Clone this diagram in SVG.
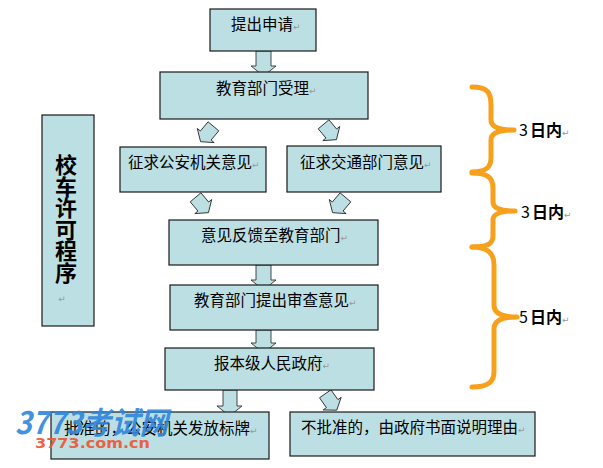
<svg xmlns="http://www.w3.org/2000/svg" width="603" height="468" viewBox="0 0 603 468">
<defs>
<style>
.box{fill:#BCDFE3;stroke:#1a1a1a;stroke-width:1.2}
.arr{fill:#BCDFE3;stroke:#333;stroke-width:0.9;stroke-linejoin:miter}
.t{font-family:"Noto Sans CJK SC","Liberation Sans",sans-serif;font-size:15.5px;fill:#000}
.pm{font-family:"DejaVu Sans",sans-serif;font-size:9px;fill:#999}
.brace{fill:none;stroke:#F7A01C;stroke-width:5;stroke-linecap:round;stroke-linejoin:round}
.lab{font-family:"Noto Sans CJK SC","Liberation Sans",sans-serif;font-size:16px;fill:#000}
</style>
<path id="da" d="M-7,-10 L7,-10 L7,2 L11,2 L0,10 L-11,2 L-7,2 Z"/>
</defs>
<rect width="603" height="468" fill="#fff"/>
<g id="connectors">
<polygon class="arr" points="256,51 271,51 271,66 276,66 263.5,76 251,66 256,66"/>
<polygon class="arr" points="256,265 271,265 271,280 276,280 263.5,290 251,280 256,280"/>
<polygon class="arr" points="256,330 271,330 271,343 276,343 263.5,353 251,343 256,343"/>
<polygon class="arr" points="223,390 237,390 237,406 242,406 229.5,416 217,406 223,406"/>
<use href="#da" class="arr" transform="translate(207,134) rotate(40)"/>
<use href="#da" class="arr" transform="translate(330,132) rotate(-40)"/>
<use href="#da" class="arr" transform="translate(202,205) rotate(-40)"/>
<use href="#da" class="arr" transform="translate(339,205) rotate(40)"/>
<use href="#da" class="arr" transform="translate(331,402) rotate(-35)"/>
</g>
<g id="n1"><rect class="box" x="210" y="9" width="106" height="42"/><text class="t" x="231" y="30">提出申请<tspan class="pm">↵</tspan></text></g>
<g id="n2"><rect class="box" x="160" y="72" width="208" height="47"/><text class="t" x="216" y="94">教育部门受理<tspan class="pm">↵</tspan></text></g>
<g id="n3"><rect class="box" x="120" y="147" width="146" height="45"/><text class="t" x="128" y="168">征求公安机关意见<tspan class="pm">↵</tspan></text></g>
<g id="n4"><rect class="box" x="287" y="146" width="154" height="46"/><text class="t" x="300" y="168">征求交通部门意见<tspan class="pm">↵</tspan></text></g>
<g id="n5"><rect class="box" x="169" y="220" width="209" height="45"/><text class="t" x="201" y="241">意见反馈至教育部门<tspan class="pm">↵</tspan></text></g>
<g id="n6"><rect class="box" x="170" y="285" width="208" height="45"/><text class="t" x="194" y="306">教育部门提出审查意见<tspan class="pm">↵</tspan></text></g>
<g id="n7"><rect class="box" x="165" y="348" width="209" height="42"/><text class="t" x="214" y="369">报本级人民政府<tspan class="pm">↵</tspan></text></g>
<g id="n8"><rect class="box" x="51" y="412" width="218" height="47"/><text class="t" x="64" y="434">批准的，公安机关发放标牌<tspan class="pm">↵</tspan></text></g>
<g id="n9"><rect class="box" x="290" y="412" width="245" height="44"/><text class="t" x="301" y="433">不批准的，由政府书面说明理由<tspan class="pm">↵</tspan></text></g>
<g id="title"><rect class="box" x="42" y="115" width="52" height="211"/>
<text x="66" y="173" text-anchor="middle" style="font-family:'Noto Sans CJK SC',sans-serif;font-size:22px;font-weight:bold;fill:#000"><tspan x="66">校</tspan><tspan x="66" dy="21.5">车</tspan><tspan x="66" dy="21.5">许</tspan><tspan x="66" dy="21.5">可</tspan><tspan x="66" dy="21.5">程</tspan><tspan x="66" dy="21.5">序</tspan></text>
<text class="pm" x="62" y="302" text-anchor="middle">↵</text></g>
<g id="braces">
<path class="brace" d="M472,87 C488,87 491,93 491,105 L491,120 C491,127 498,130 514,130 C498,130 491,133 491,140 L491,158 C491,168 485,172 472,172"/>
<path class="brace" d="M472,173 C488,173 493,178 493,188 L493,202 C493,208 500,211 515,211 C500,211 493,214 493,220 L493,236 C493,244 487,247 472,247"/>
<path class="brace" d="M472,247 C488,247 494,253 494,265 L494,305 C494,313 502,317 517,317 C502,317 494,321 494,329 L494,372 C494,382 488,387 472,387"/>
</g>
<g id="labels">
<text class="lab" x="519" y="136">3<tspan font-weight="bold" dx="2">日内</tspan><tspan class="pm">↵</tspan></text>
<text class="lab" x="521" y="218">3<tspan font-weight="bold" dx="2">日内</tspan><tspan class="pm">↵</tspan></text>
<text class="lab" x="519" y="323">5<tspan font-weight="bold" dx="2">日内</tspan><tspan class="pm">↵</tspan></text>
</g>
<g id="watermark" opacity="0.9">
<text x="15" y="434" textLength="153" lengthAdjust="spacingAndGlyphs" style="font-family:'Noto Sans CJK SC',sans-serif;font-size:31px;font-weight:bold;font-style:italic;fill:#2F86DC">3773考试网</text>
<text x="35" y="448" textLength="115" lengthAdjust="spacingAndGlyphs" style="font-family:'DejaVu Sans',sans-serif;font-size:14px;font-weight:bold;fill:#EE5530">3773.com.cn</text>
</g>
</svg>
